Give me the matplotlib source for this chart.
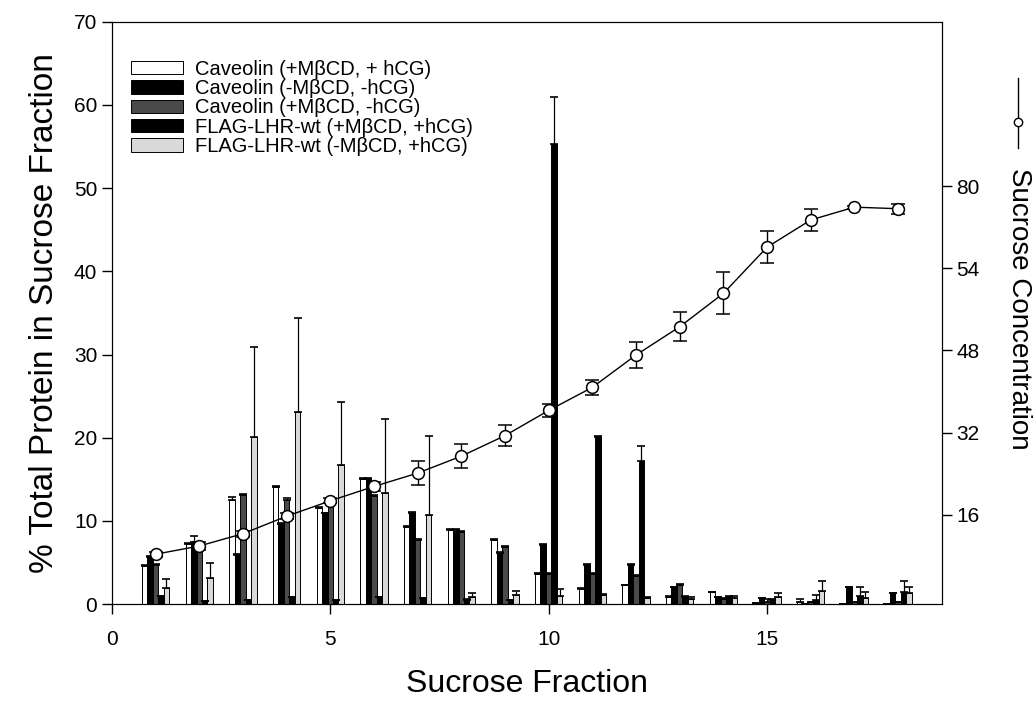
import numpy as np
import matplotlib
matplotlib.use("Agg")
import matplotlib.pyplot as plt
from matplotlib.lines import Line2D
from matplotlib.ticker import FixedLocator, FixedFormatter

plt.rcParams['font.family'] = ['Liberation Sans', 'DejaVu Sans']

fractions = np.arange(1, 19)

# % total protein per fraction (5 series)
cav_pos_pos = [4.55, 7.19, 12.5, 14.06, 11.59, 15.07, 9.27, 8.95, 7.75, 3.6,
               1.84, 2.24, 0.88, 1.4, 0.1, 0.2, 0.05, 0.05]
cav_neg_neg = [5.67, 7.5, 5.87, 9.67, 10.9, 15.0, 10.95, 8.87, 6.15, 7.07,
               4.75, 4.67, 2.0, 0.8, 0.68, 0.05, 2.0, 1.28]
cav_pos_neg = [4.67, 6.5, 13.06, 12.55, 12.2, 13.0, 7.75, 8.67, 6.87, 3.6,
               3.67, 3.36, 2.24, 0.6, 0.3, 0.3, 0.3, 0.3]
lhr_pos_pos = [0.96, 0.4, 0.5, 0.9, 0.5, 0.9, 0.7, 0.5, 0.5, 55.3,
               20.14, 17.14, 0.88, 0.8, 0.48, 0.5, 1.0, 1.4]
lhr_neg_pos = [1.9, 3.08, 20.06, 23.13, 16.66, 13.35, 10.67, 0.88, 1.08, 1.0,
               1.08, 0.76, 0.6, 0.72, 0.88, 1.6, 0.72, 1.28]

cav_pos_pos_err = [0.1, 0.1, 0.4, 0.1, 0.1, 0.1, 0.1, 0.1, 0.1, 0.1,
                   0.1, 0.1, 0.1, 0.1, 0.0, 0.4, 0.0, 0.0]
cav_neg_neg_err = [0.1, 0.65, 0.1, 0.1, 0.1, 0.1, 0.1, 0.1, 0.1, 0.1,
                   0.1, 0.1, 0.1, 0.1, 0.0, 0.0, 0.0, 0.0]
cav_pos_neg_err = [0.1, 0.1, 0.2, 0.2, 0.1, 0.1, 0.1, 0.1, 0.1, 0.1,
                   0.1, 0.1, 0.2, 0.1, 0.25, 0.0, 0.0, 0.0]
lhr_pos_pos_err = [0.0, 0.0, 0.0, 0.0, 0.0, 0.0, 0.0, 0.1, 0.0, 5.7,
                   0.1, 1.92, 0.1, 0.2, 0.12, 0.6, 1.0, 1.36]
lhr_neg_pos_err = [1.1, 1.87, 10.9, 11.23, 7.59, 8.91, 9.59, 0.4, 0.5, 0.8,
                   0.1, 0.1, 0.3, 0.3, 0.5, 1.16, 0.68, 0.8]

labels = ["Caveolin (+M\u03b2CD, + hCG)",
          "Caveolin (-M\u03b2CD, -hCG)",
          "Caveolin (+M\u03b2CD, -hCG)",
          "FLAG-LHR-wt (+M\u03b2CD, +hCG)",
          "FLAG-LHR-wt (-M\u03b2CD, +hCG)"]
colors = ["white", "black", "#4a4a4a", "black", "#d9d9d9"]

# sucrose concentration (right axis)
sucrose = [8.3, 9.9, 12.3, 15.7, 18.7, 21.5, 24.1, 27.4, 31.4, 36.3,
           40.8, 47.1, 52.6, 59.1, 68.1, 73.4, 75.9, 75.6]
sucrose_err = [0.5, 0.8, 0.6, 0.6, 0.5, 0.8, 2.4, 2.4, 2.1, 1.3,
               1.5, 2.6, 2.8, 4.1, 3.1, 2.1, 0.3, 1.0]
right_ticks = [16, 32, 48, 64, 80]
right_labels = ["16", "32", "48", "54", "80"]

fig = plt.figure(figsize=(10.36, 7.04), dpi=100)
ax = fig.add_axes([0.108, 0.142, 0.801, 0.827])

series = [cav_pos_pos, cav_neg_neg, cav_pos_neg, lhr_pos_pos, lhr_neg_pos]
errs = [cav_pos_pos_err, cav_neg_neg_err, cav_pos_neg_err, lhr_pos_pos_err, lhr_neg_pos_err]
w = 0.125
for i, (vals, err) in enumerate(zip(series, errs)):
    pos = fractions + (i - 2) * w
    ax.bar(pos, vals, width=w, color=colors[i], edgecolor="black", linewidth=0.7,
           label=labels[i], zorder=2)
    ax.errorbar(pos, vals, yerr=[np.zeros(len(err)), err], fmt="none",
                ecolor="black", elinewidth=0.9, capsize=3, capthick=1.2, zorder=3)

ax.set_xlim(0, 19)
ax.set_ylim(0, 70)
ax.set_xticks([0, 5, 10, 15])
ax.set_yticks(range(0, 71, 10))
ax.tick_params(direction="out", length=7, width=1, labelsize=15)
ax.tick_params(axis="x", pad=12)
ax.set_xlabel("Sucrose Fraction", fontsize=23, labelpad=14)
ax.set_ylabel("% Total Protein in Sucrose Fraction", fontsize=24, labelpad=10)

leg = ax.legend(loc="upper left", bbox_to_anchor=(0.0, 0.968), frameon=False,
                fontsize=14.5, handlelength=2.6, handleheight=0.65,
                labelspacing=0.02, handletextpad=0.6, borderaxespad=0.55)

ax2 = ax.twinx()
ax2.errorbar(fractions, sucrose, yerr=sucrose_err, fmt="-o", color="black",
             markerfacecolor="white", markeredgecolor="black", markersize=8.5,
             markeredgewidth=1.1, linewidth=1.0, ecolor="black", elinewidth=1.0,
             capsize=5, capthick=1.2, zorder=5)
ax2.set_ylim(-1.4, 112)
ax2.yaxis.set_major_locator(FixedLocator(right_ticks))
ax2.yaxis.set_major_formatter(FixedFormatter(right_labels))
ax2.tick_params(direction="out", length=7, width=1, labelsize=15)

# right axis title with its legend key
fig.text(0.984, 0.761, "Sucrose Concentration", rotation=-90, fontsize=20,
         ha="center", va="top")
fig.add_artist(Line2D([0.9825, 0.9825], [1 - 78 / 704, 1 - 148 / 704],
                      transform=fig.transFigure, color="black", linewidth=1.0))
fig.add_artist(Line2D([0.9825], [1 - 122 / 704], transform=fig.transFigure,
                      marker="o", markersize=6, markerfacecolor="white",
                      markeredgecolor="black", linestyle="none"))

fig.savefig("out.png", dpi=100)
